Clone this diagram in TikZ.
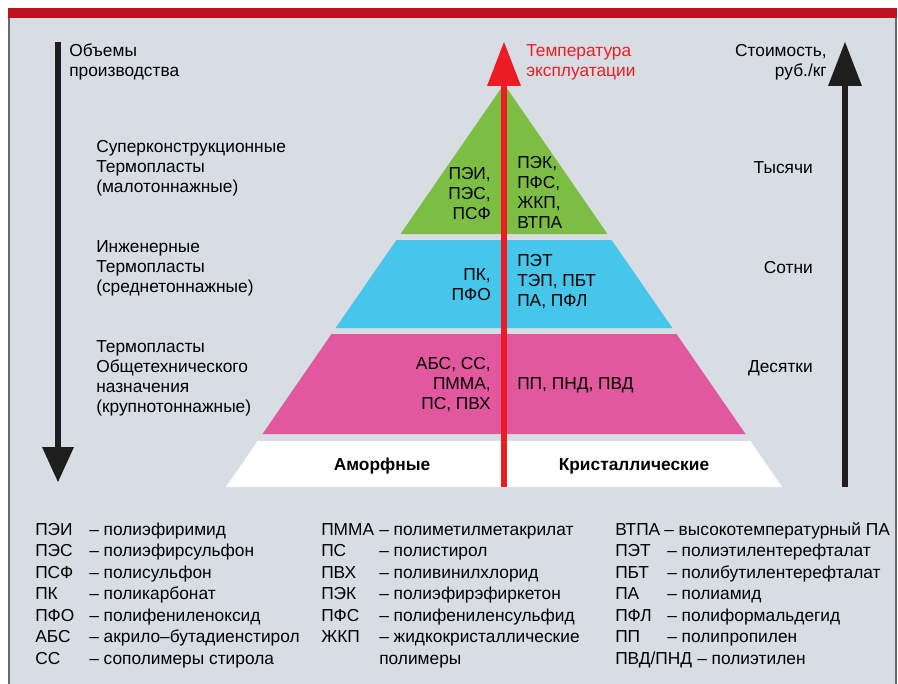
\documentclass[tikz,border=0pt]{standalone}
\usepackage{fontspec}
\setmainfont{Liberation Sans}
\usetikzlibrary{positioning}
\definecolor{bggray}{RGB}{216,221,228}
\definecolor{framegray}{RGB}{105,105,105}
\definecolor{titlered}{RGB}{190,18,30}
\definecolor{tempred}{RGB}{237,28,36}
\definecolor{supergreen}{RGB}{124,190,68}
\definecolor{engblue}{RGB}{70,198,234}
\definecolor{genpink}{RGB}{226,88,158}
\definecolor{axisblack}{RGB}{30,30,30}
\tikzstyle{txt} = [inner sep=0pt, font=\fontsize{13}{15}\selectfont]
\tikzstyle{legend} = [inner sep=0pt, anchor=base west, font=\fontsize{13}{16}\selectfont]
\tikzstyle{shaft} = [line width=5pt]

\begin{document}
\begin{tikzpicture}[x=0.75pt, y=-0.75pt]
            \useasboundingbox (0,0) rectangle (898,684);
            % frame
            \fill [bggray] (9,18) rectangle (896,690);
            \fill [titlered] (8,8) rectangle (897,18);
            \draw [framegray, line width=1.2pt] (9,18) -- (9,690);
            \draw [framegray, line width=1.2pt] (896,18) -- (896,690);
            % pyramid layers
            \fill [supergreen] (504,84) -- (607.5,234) -- (400.5,234) -- cycle;
            \fill [engblue] (396.4,240) -- (611.6,240) -- (672.4,328) -- (335.6,328) -- cycle;
            \fill [genpink] (331.5,334) -- (676.5,334) -- (745.5,434) -- (262.5,434) -- cycle;
            \fill [white] (257.7,441) -- (750.3,441) -- (782,487) -- (226,487) -- cycle;
            % axes
            \coordinate (vtop) at (58,42);
            \coordinate (vbot) at (58,482);
            \coordinate (ttop) at (504,42);
            \coordinate (tbot) at (504,487);
            \coordinate (ctop) at (845,42);
            \coordinate (cbot) at (845,487);
            \draw [shaft, axisblack] (vtop) -- (58,449);
            \fill [axisblack] (vbot) -- (42,447) -- (74,447) -- cycle;
            \draw [shaft, tempred] (tbot) -- (504,84);
            \fill [tempred] (ttop) -- (487,86) -- (521,86) -- cycle;
            \draw [shaft, axisblack] (cbot) -- (845,84);
            \fill [axisblack] (ctop) -- (828,86) -- (862,86) -- cycle;
            % axis titles
            \node [txt, anchor=west, align=left] (volume) at (69,62) {Объемы\\производства};
            \node [txt, anchor=west, align=left, text=tempred] (temp) at (526,62) {Температура\\эксплуатации};
            \node [txt, anchor=east, align=right] (cost) at (827,62) {Стоимость,\\руб./кг};
            % classes
            \node [txt, anchor=west, align=left] (super) at (96,168) {Суперконструкционные\\Термопласты\\(малотоннажные)};
            \node [txt, anchor=west, align=left] (eng) at (96,268) {Инженерные\\Термопласты\\(среднетоннажные)};
            \node [txt, anchor=west, align=left] (general) at (96,378) {Термопласты\\Общетехнического\\назначения\\(крупнотоннажные)};
            \node [txt, anchor=east] (thousands) at (813,168) {Тысячи};
            \node [txt, anchor=east] (hundreds) at (813,268) {Сотни};
            \node [txt, anchor=east] (tens) at (813,368) {Десятки};
            % polymers in the layers
            \node [txt, anchor=east, align=right] (superam) at (491,194) {ПЭИ,\\ПЭС,\\ПСФ};
            \node [txt, anchor=west, align=left] (supercr) at (517,192) {ПЭК,\\ПФС,\\ЖКП,\\ВТПА};
            \node [txt, anchor=east, align=right] (engam) at (491,285) {ПК,\\ПФО};
            \node [txt, anchor=west, align=left] (engcr) at (517,282) {ПЭТ\\ТЭП, ПБТ\\ПА, ПФЛ};
            \node [txt, anchor=east, align=right] (genam) at (491,385) {АБС, СС,\\ПММА,\\ПС, ПВХ};
            \node [txt, anchor=west] (gencr) at (517,385) {ПП, ПНД, ПВД};
            \node [txt, font=\fontsize{13}{15}\selectfont\bfseries] (amorph) at (382,466) {Аморфные};
            \node [txt, font=\fontsize{13}{15}\selectfont\bfseries] (cryst) at (634,466) {Кристаллические};
            % legend
            \foreach \ab/\dx/\name [count=\i] in {ПЭИ/89/полиэфиримид, ПЭС/89/полиэфирсульфон,
                ПСФ/89/полисульфон, ПК/89/поликарбонат, ПФО/89/полифениленоксид,
                АБС/89/акрило–бутадиенстирол, СС/89/сополимеры стирола} {
                \node [legend] (abA\i) at (35,513.5+21.5*\i) {\ab};
                \node [legend] (nmA\i) at (\dx,513.5+21.5*\i) {– \name};
            }
            \foreach \ab/\dx/\name [count=\i] in {ПММА/379/полиметилметакрилат, ПС/379/полистирол,
                ПВХ/379/поливинилхлорид, ПЭК/379/полиэфирэфиркетон, ПФС/379/полифениленсульфид,
                ЖКП/379/жидкокристаллические} {
                \node [legend] (abB\i) at (321,513.5+21.5*\i) {\ab};
                \node [legend] (nmB\i) at (\dx,513.5+21.5*\i) {– \name};
            }
            \node [legend] (nmB7) at (379,664) {полимеры};
            \foreach \ab/\dx/\name [count=\i] in {ВТПА/664/высокотемпературный ПА, ПЭТ/667/полиэтилентерефталат,
                ПБТ/667/полибутилентерефталат, ПА/667/полиамид, ПФЛ/667/полиформальдегид,
                ПП/667/полипропилен, {ПВД/ПНД}/697/полиэтилен} {
                \node [legend] (abC\i) at (615,513.5+21.5*\i) {\ab};
                \node [legend] (nmC\i) at (\dx,513.5+21.5*\i) {– \name};
            }
            \end{tikzpicture}
\end{document}
